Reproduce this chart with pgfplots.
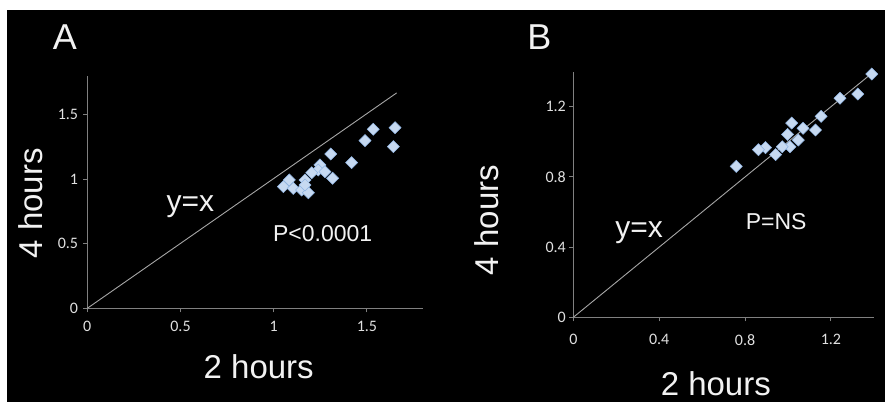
\documentclass[border=0pt]{standalone}
\usepackage{fontspec}
\setmainfont{Liberation Sans}
\newfontfamily\tickfont{Carlito}
\usepackage{pgfplots}
\pgfplotsset{compat=1.18}
\definecolor{axisgray}{HTML}{808080}
\definecolor{linegray}{HTML}{A6A6A6}
\definecolor{tickgray}{HTML}{E0E0E0}
\definecolor{markfill}{HTML}{C6D9F1}
\definecolor{markdraw}{HTML}{8EB4E3}
\definecolor{txt}{HTML}{F2F2F2}
\pgfplotsset{
  panel/.style={
    scale only axis, anchor=south west, clip=false,
    axis lines*=left,
    axis line style={color=axisgray, line width=1pt},
    tick align=outside, major tick length=4pt,
    tick style={color=axisgray, line width=1pt},
    ticklabel style={font=\fontsize{16}{16}\selectfont\tickfont, text=tickgray},
    /pgf/number format/assume math mode=true,
  },
  pts/.style={only marks, mark=square*, mark size=4.3pt,
    mark options={fill=markfill, draw=markdraw, line width=0.5pt, rotate=45}},
}
\begin{document}
\begin{tikzpicture}[x=1pt,y=1pt]
\fill[white] (0,0) rectangle (885,402);
\fill[black] (7,0) rectangle (885,392);
\useasboundingbox (0,0) rectangle (885,402);
% Panel A
\begin{axis}[panel, at={(87.3pt,93.7pt)}, width=335.5pt, height=232.2pt,
  xmin=0, xmax=1.8, ymin=0, ymax=1.8,
  xtick={0,0.5,1,1.5}, ytick={0,0.5,1,1.5},
  xticklabel style={yshift=-5.5pt}, yticklabel style={xshift=-1.7pt}]
\addplot[linegray, line width=0.9pt] coordinates {(0,0) (1.66,1.67)};
\addplot[pts] table {
x y
1.651 1.400
1.534 1.388
1.490 1.300
1.642 1.253
1.306 1.196
1.418 1.129
1.248 1.111
1.239 1.072
1.204 1.051
1.275 1.059
1.316 1.008
1.168 0.995
1.084 0.995
1.052 0.943
1.105 0.930
1.150 0.917
1.186 0.896
1.168 0.956
};
\end{axis}
% Panel B
\begin{axis}[panel, at={(573.3pt,84.7pt)}, width=300.6pt, height=245.7pt,
  xmin=0, xmax=1.4, ymin=0, ymax=1.4,
  xtick={0,0.4,0.8,1.2}, ytick={0,0.4,0.8,1.2},
  xticklabel style={yshift=-9.5pt}, yticklabel style={xshift=0pt}]
\addplot[linegray, line width=0.9pt] coordinates {(0,0) (1.39,1.39)};
\addplot[pts] table {
x y
1.390 1.386
1.325 1.272
1.242 1.248
1.154 1.145
1.128 1.067
1.017 1.107
1.070 1.077
0.998 1.042
1.048 1.010
1.009 0.972
0.973 0.972
0.942 0.927
0.895 0.967
0.862 0.955
0.759 0.860
};
\end{axis}
% texts
\begin{scope}[every node/.style={text=txt, inner sep=0pt}]
\node[font=\fontsize{36}{36}\selectfont] at (65,365) {A};
\node[font=\fontsize{30}{30}\selectfont] at (190.3,195.3) {y=x};
\node[font=\fontsize{23}{23}\selectfont] at (322.7,168.7) {P<0.0001};
\node[font=\fontsize{33}{33}\selectfont] at (258.7,35.3) {2 hours};
\node[font=\fontsize{33}{33}\selectfont, rotate=90] at (30.7,198.7) {4 hours};
\node[font=\fontsize{36}{36}\selectfont] at (539.3,364.7) {B};
\node[font=\fontsize{30}{30}\selectfont] at (639,169.7) {y=x};
\node[font=\fontsize{23}{23}\selectfont] at (776.2,180.3) {P=NS};
\node[font=\fontsize{33}{33}\selectfont] at (715.8,18.2) {2 hours};
\node[font=\fontsize{33}{33}\selectfont, rotate=90] at (486.7,182) {4 hours};
\end{scope}
\end{tikzpicture}
\end{document}
